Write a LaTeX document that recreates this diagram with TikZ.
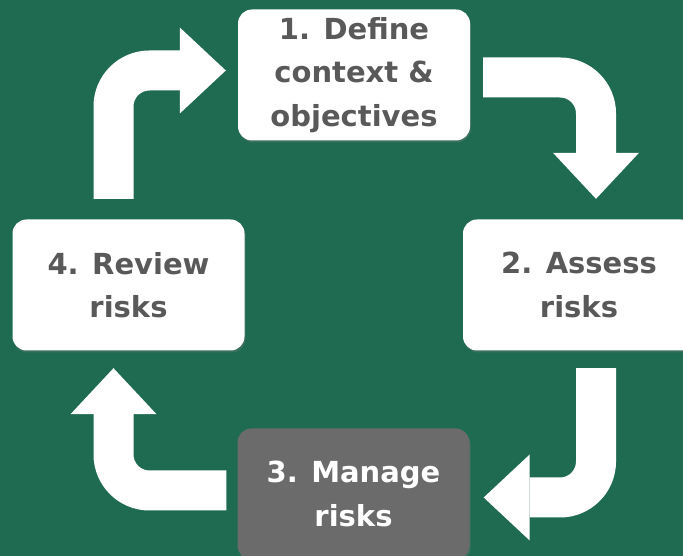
\documentclass[tikz,border=0pt]{standalone}
\usepackage{fontspec}
\setmainfont{DejaVu Sans}
\usetikzlibrary{arrows.meta,shadows}

\definecolor{bggreen}{HTML}{1F6B52}
\definecolor{txtgray}{HTML}{595959}
\definecolor{boxgray}{HTML}{6B6B6B}

\tikzset{
    stepbox/.style={fill=white, rounded corners=14pt, inner sep=2pt,
        minimum width=232pt, minimum height=131pt, align=center,
        text=txtgray, font=\fontsize{29}{43.5}\selectfont\bfseries,
        drop shadow={opacity=0.3, shadow xshift=1pt, shadow yshift=-2pt}},
    cyc/.style={draw=white, line width=40pt, rounded corners=36pt,
        -{Triangle[width=86pt, length=46pt, line width=0pt]}}
}

\begin{document}
\begin{tikzpicture}[x=1pt, y=1pt]
    % background
    \fill[bggreen] (0,0) rectangle (683,556);
    \useasboundingbox (0,0) rectangle (683,556);

    % the four steps
    \node[stepbox] (define) at (354,481) {1. Define\\context \&\\objectives};
    \node[stepbox] (assess) at (579,271) {2. Assess\\risks};
    \node[stepbox, fill=boxgray, text=white] (manage) at (353.5,62) {3. Manage\\risks};
    \node[stepbox] (review) at (128.5,271) {4. Review\\risks};

    % bent arrows between the steps
    \draw[cyc] ([shift={(-15pt,20.5pt)}]review.north) |- ([shift={(-12pt,4.5pt)}]define.west);
    \draw[cyc] ([shift={(13pt,-2.5pt)}]define.east) -| ([shift={(17pt,20.5pt)}]assess.north);
    \draw[cyc] ([shift={(17pt,-17.5pt)}]assess.south) |- ([shift={(14pt,-3.5pt)}]manage.east);
    \draw[cyc] ([shift={(-11pt,3.5pt)}]manage.west) -| ([shift={(-15pt,-17.5pt)}]review.south);
\end{tikzpicture}
\end{document}
